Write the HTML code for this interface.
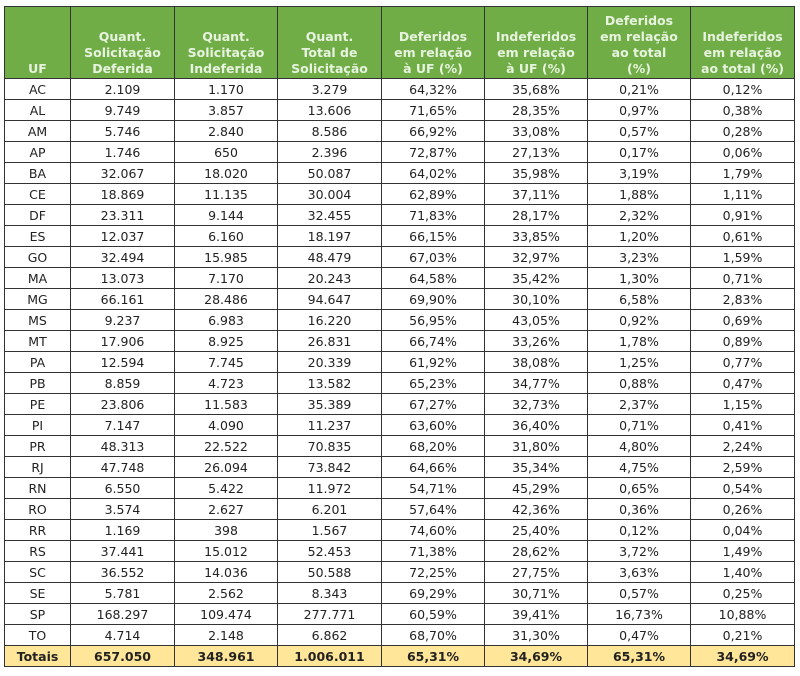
<!DOCTYPE html>
<html><head><meta charset="utf-8">
<style>
html,body{margin:0;padding:0;background:#fff;width:800px;height:676px;overflow:hidden}
table{position:absolute;left:4px;top:6px;border-collapse:collapse;table-layout:fixed;width:790px;font-family:"DejaVu Sans","Liberation Sans",sans-serif;font-size:12.5px;color:#222}
th{background:#70ad47;color:#e8f3df;font-weight:bold;font-size:12.5px;line-height:16px;vertical-align:bottom;text-align:center;border:1px solid #333;padding:0 0 1px 0;height:70px}
td{border:1px solid #333;text-align:center;height:20px;padding:0;line-height:19px}
tr.tot td{background:#ffe699;font-weight:bold}
</style></head><body>
<table>
<colgroup><col style="width:66px"><col style="width:104px"><col style="width:103px"><col style="width:104px"><col style="width:103px"><col style="width:103px"><col style="width:103px"><col style="width:104px"></colgroup>
<thead><tr>
<th>UF</th>
<th>Quant.<br>Solicitação<br>Deferida</th>
<th>Quant.<br>Solicitação<br>Indeferida</th>
<th>Quant.<br>Total de<br>Solicitação</th>
<th>Deferidos<br>em relação<br>à UF (%)</th>
<th>Indeferidos<br>em relação<br>à UF (%)</th>
<th>Deferidos<br>em relação<br>ao total<br>(%)</th>
<th>Indeferidos<br>em relação<br>ao total (%)</th>
</tr></thead>
<tbody id="tb"></tbody>
</table>
<script>
const ufs=["AC","AL","AM","AP","BA","CE","DF","ES","GO","MA","MG","MS","MT","PA","PB","PE","PI","PR","RJ","RN","RO","RR","RS","SC","SE","SP","TO","Totais"];
const deferida=["2.109","9.749","5.746","1.746","32.067","18.869","23.311","12.037","32.494","13.073","66.161","9.237","17.906","12.594","8.859","23.806","7.147","48.313","47.748","6.550","3.574","1.169","37.441","36.552","5.781","168.297","4.714","657.050"];
const indeferida=["1.170","3.857","2.840","650","18.020","11.135","9.144","6.160","15.985","7.170","28.486","6.983","8.925","7.745","4.723","11.583","4.090","22.522","26.094","5.422","2.627","398","15.012","14.036","2.562","109.474","2.148","348.961"];
const total=["3.279","13.606","8.586","2.396","50.087","30.004","32.455","18.197","48.479","20.243","94.647","16.220","26.831","20.339","13.582","35.389","11.237","70.835","73.842","11.972","6.201","1.567","52.453","50.588","8.343","277.771","6.862","1.006.011"];
const defUF=["64,32%","71,65%","66,92%","72,87%","64,02%","62,89%","71,83%","66,15%","67,03%","64,58%","69,90%","56,95%","66,74%","61,92%","65,23%","67,27%","63,60%","68,20%","64,66%","54,71%","57,64%","74,60%","71,38%","72,25%","69,29%","60,59%","68,70%","65,31%"];
const indefUF=["35,68%","28,35%","33,08%","27,13%","35,98%","37,11%","28,17%","33,85%","32,97%","35,42%","30,10%","43,05%","33,26%","38,08%","34,77%","32,73%","36,40%","31,80%","35,34%","45,29%","42,36%","25,40%","28,62%","27,75%","30,71%","39,41%","31,30%","34,69%"];
const defTot=["0,21%","0,97%","0,57%","0,17%","3,19%","1,88%","2,32%","1,20%","3,23%","1,30%","6,58%","0,92%","1,78%","1,25%","0,88%","2,37%","0,71%","4,80%","4,75%","0,65%","0,36%","0,12%","3,72%","3,63%","0,57%","16,73%","0,47%","65,31%"];
const indefTot=["0,12%","0,38%","0,28%","0,06%","1,79%","1,11%","0,91%","0,61%","1,59%","0,71%","2,83%","0,69%","0,89%","0,77%","0,47%","1,15%","0,41%","2,24%","2,59%","0,54%","0,26%","0,04%","1,49%","1,40%","0,25%","10,88%","0,21%","34,69%"];
const tb=document.getElementById('tb');
const cols=[ufs,deferida,indeferida,total,defUF,indefUF,defTot,indefTot];
const colNames=["uf","deferida","indeferida","total","def-uf","indef-uf","def-total","indef-total"];
ufs.forEach((u,i)=>{
  const tr=document.createElement('tr');
  
  
  if(u==="Totais") tr.className="tot";
  cols.forEach((c,j)=>{
    const td=document.createElement('td');
    
    
    td.textContent=c[i];
    tr.appendChild(td);
  });
  tb.appendChild(tr);
});
</script>
</body></html>
